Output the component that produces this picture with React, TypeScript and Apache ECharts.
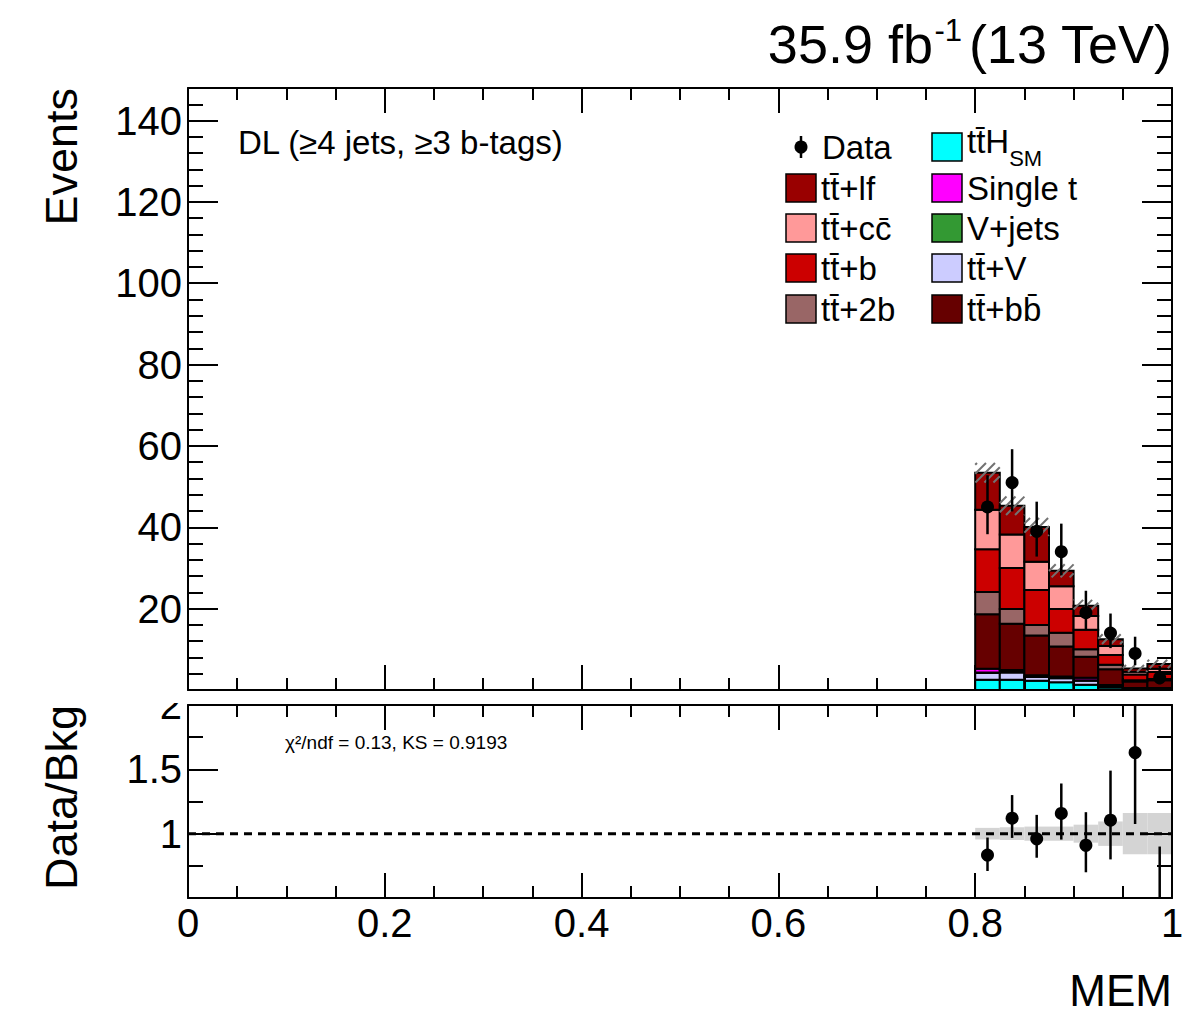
import React, { useEffect, useRef } from 'react';
import * as echarts from 'echarts';

// ---------------- data ----------------
const binLow = [0.8, 0.825, 0.85, 0.875, 0.9, 0.925, 0.95, 0.975];
const binHigh = [0.825, 0.85, 0.875, 0.9, 0.925, 0.95, 0.975, 1.0];

// stacked backgrounds (bottom -> top)
const ttH = [2.5, 2.5, 2.3, 1.9, 1.3, 0.6, 0.2, 0.2];
const ttV = [1.7, 1.8, 0.9, 1.0, 1.0, 0.4, 0.2, 0.2];
const vJets = [0.1, 0.1, 0.1, 0.1, 0.1, 0.05, 0.0, 0.0];
const singleT = [0.9, 0.5, 0.3, 0.3, 0.6, 0.15, 0.1, 0.1];
const ttbb = [13.4, 11.4, 9.8, 7.4, 5.2, 3.9, 1.6, 1.9];
const tt2b = [5.5, 3.6, 2.6, 3.4, 1.8, 1.1, 0.3, 0.3];
const ttb = [10.5, 10.1, 8.6, 5.8, 4.8, 2.4, 1.4, 1.7];
const ttcc = [9.7, 8.2, 6.9, 5.6, 3.4, 2.2, 0.7, 0.8];
const ttlf = [9.1, 7.1, 8.6, 3.8, 2.5, 1.7, 0.8, 1.2];

// relative background uncertainty
const bkgUnc = [0.045, 0.05, 0.055, 0.055, 0.07, 0.095, 0.16, 0.16];

// observed data
const dataCounts = [45, 51, 39, 34, 19, 14, 9, 3];
const dataErrUp = [7.8, 8.2, 7.3, 6.9, 5.4, 4.8, 4.1, 2.9];
const dataErrDown = [6.7, 7.1, 6.2, 5.8, 4.3, 3.7, 2.9, 1.6];

// ratio panel
const ratioVals = [0.834, 1.12, 0.96, 1.157, 0.91, 1.105, 1.63, 0.44];
const ratioErrUp = [0.136, 0.18, 0.186, 0.233, 0.257, 0.385, 0.75, 0.46];
const ratioErrDown = [0.124, 0.153, 0.147, 0.203, 0.21, 0.305, 0.555, 0.25];

const mainYLabels = [20, 40, 60, 80, 100, 120, 140];
const ratioYLabels = [1, 1.5, 2];

const TT = 't' + 't\u0304';
const components = [
  { name: TT + 'H', values: ttH, color: '#00ffff' },
  { name: TT + '+V', values: ttV, color: '#ccccff' },
  { name: 'V+jets', values: vJets, color: '#339933' },
  { name: 'Single t', values: singleT, color: '#ff00ff' },
  { name: TT + '+b' + 'b\u0304', values: ttbb, color: '#660000' },
  { name: TT + '+2b', values: tt2b, color: '#996666' },
  { name: TT + '+b', values: ttb, color: '#cc0000' },
  { name: TT + '+c' + 'c\u0304', values: ttcc, color: '#ff9999' },
  { name: TT + '+lf', values: ttlf, color: '#990000' },
];

// legend layout
const legendCol1 = [TT + '+lf', TT + '+c' + 'c\u0304', TT + '+b', TT + '+2b'];
const legendCol2 = [TT + 'H', 'Single t', 'V+jets', TT + '+V', TT + '+b' + 'b\u0304'];

const FONT = '"Liberation Sans", Arial, Helvetica, sans-serif';

function rectRender(color: string) {
  return (params: any, api: any) => {
    const x0 = api.value(0), x1 = api.value(1), y0 = api.value(2), y1 = api.value(3);
    if (!(y1 - y0 > 0)) return { type: 'group', children: [] };
    const p0 = api.coord([x0, y0]);
    const p1 = api.coord([x1, y1]);
    return {
      type: 'rect',
      shape: { x: p0[0], y: p1[1], width: p1[0] - p0[0], height: p0[1] - p1[1] },
      style: { fill: color, stroke: '#000', lineWidth: 2 },
    };
  };
}

function bandRender(params: any, api: any) {
  const p0 = api.coord([api.value(0), api.value(2)]);
  const p1 = api.coord([api.value(1), api.value(3)]);
  return {
    type: 'rect',
    shape: { x: p0[0], y: p1[1], width: p1[0] - p0[0], height: p0[1] - p1[1] },
    style: { fill: '#d4d4d4' },
  };
}

function hatchRender(params: any, api: any) {
  const pA = api.coord([api.value(0), api.value(3)]);
  const pB = api.coord([api.value(1), api.value(2)]);
  const xa = pA[0], ya = pA[1], xb = pB[0], yb = pB[1];
  const step = 9;
  const children: any[] = [];
  for (let c = Math.ceil((xa + ya) / step) * step; c <= xb + yb; c += step) {
    const xs = Math.max(xa, c - yb);
    const xe = Math.min(xb, c - ya);
    if (xe > xs) {
      children.push({
        type: 'line',
        shape: { x1: xs, y1: c - xs, x2: xe, y2: c - xe },
        style: { stroke: '#727272', lineWidth: 2 },
      });
    }
  }
  return { type: 'group', children };
}

function pointRender(params: any, api: any) {
  const x = api.value(0), y = api.value(1), dn = api.value(2), up = api.value(3);
  const pc = api.coord([x, y]);
  const pl = api.coord([x, y - dn]);
  const ph = api.coord([x, y + up]);
  return {
    type: 'group',
    children: [
      { type: 'line', shape: { x1: pc[0], y1: pl[1], x2: pc[0], y2: ph[1] }, style: { stroke: '#000', lineWidth: 2.5 } },
      { type: 'circle', shape: { cx: pc[0], cy: pc[1], r: 6.5 }, style: { fill: '#000' } },
    ],
  };
}

function xAxisDef(gridIndex: number, position: string, showLabels: boolean) {
  return {
    type: 'value', gridIndex, position, min: 0, max: 1, interval: 0.2, z: 5,
    axisLine: { show: true, onZero: false, lineStyle: { color: '#000', width: 2 } },
    axisTick: { show: true, inside: true, length: 25, lineStyle: { color: '#000', width: 2 } },
    minorTick: { show: true, splitNumber: 4, length: 12, lineStyle: { color: '#000', width: 2 } },
    splitLine: { show: false },
    axisLabel: {
      show: showLabels, color: '#000', fontSize: 40, fontFamily: FONT, margin: 5,
      showMinLabel: true, showMaxLabel: true,
      formatter: (v: number) => String(Math.round(v * 10) / 10),
    },
  };
}

function yAxisDef(gridIndex: number, position: string, min: number, max: number, interval: number,
  tickLen: number, showLine: boolean, labels: number[] | null, minorSplit = 0) {
  return {
    type: 'value', gridIndex, position, min, max, interval, z: 5,
    axisLine: { show: showLine, onZero: false, lineStyle: { color: '#000', width: 2 } },
    axisTick: { show: true, inside: true, length: tickLen, lineStyle: { color: '#000', width: 2 } },
    minorTick: { show: minorSplit > 0, splitNumber: minorSplit || 5, length: 15, lineStyle: { color: '#000', width: 2 } },
    splitLine: { show: false },
    axisLabel: {
      show: !!labels, color: '#000', fontSize: 40, fontFamily: FONT, margin: 6,
      showMinLabel: true, showMaxLabel: true,
      formatter: (v: number) => {
        if (!labels) return '';
        const hit = labels.find((l) => Math.abs(l - v) < 1e-6);
        return hit !== undefined ? String(hit) : '';
      },
    },
  };
}

function buildOption() {
  const n = binLow.length;
  const series: any[] = [];
  const cum = new Array(n).fill(0);
  components.forEach((c) => {
    const data = [];
    for (let i = 0; i < n; i++) {
      const b = cum[i];
      const t = b + c.values[i];
      data.push([binLow[i], binHigh[i], b, t]);
      cum[i] = t;
    }
    series.push({
      type: 'custom', name: c.name, xAxisIndex: 0, yAxisIndex: 0, z: 2,
      renderItem: rectRender(c.color), data, silent: true,
    });
  });
  const totals = cum.slice();
  series.push({
    type: 'custom', name: 'unc', xAxisIndex: 0, yAxisIndex: 0, z: 3, silent: true,
    renderItem: hatchRender,
    data: totals.map((t, i) => [binLow[i], binHigh[i], t * (1 - bkgUnc[i]), t * (1 + bkgUnc[i])]),
  });
  series.push({
    type: 'custom', name: 'Data', xAxisIndex: 0, yAxisIndex: 0, z: 4, silent: true, clip: true,
    renderItem: pointRender,
    data: dataCounts.map((d, i) => [(binLow[i] + binHigh[i]) / 2, d, dataErrDown[i], dataErrUp[i]]),
  });
  // ratio panel
  series.push({
    type: 'custom', name: 'band', xAxisIndex: 2, yAxisIndex: 4, z: 2, silent: true, clip: true,
    renderItem: bandRender,
    data: bkgUnc.map((u, i) => [binLow[i], binHigh[i], 1 - u, 1 + u]),
  });
  series.push({
    type: 'line', xAxisIndex: 2, yAxisIndex: 4, z: 3, silent: true, symbol: 'none',
    data: [[0, 1], [1, 1]],
    lineStyle: { color: '#000', width: 3, type: [8, 6] },
  });
  series.push({
    type: 'custom', name: 'ratio', xAxisIndex: 2, yAxisIndex: 4, z: 4, silent: true, clip: true,
    renderItem: pointRender,
    data: ratioVals.map((r, i) => [(binLow[i] + binHigh[i]) / 2, r, ratioErrDown[i], ratioErrUp[i]]),
  });

  const colorOf = (name: string) => components.find((c) => c.name === name)!.color;
  const graphics: any[] = [];
  const txt = (text: string, x: number, y: number, size: number, align = 'left', extra: any = {}) => ({
    type: 'text', x, y, z: 20, silent: true, ...extra,
    style: { text, fill: '#000', fontSize: size, fontFamily: FONT, align, verticalAlign: 'middle' },
  });
  // title
  graphics.push(txt('(13 TeV)', 1172, 44, 54, 'right'));
  graphics.push(txt('-1', 962, 30, 31, 'right'));
  graphics.push(txt('35.9 fb', 933, 44, 54, 'right'));
  // axis titles
  graphics.push(txt('Events', 61, 88, 45, 'right', { rotation: Math.PI / 2 }));
  graphics.push(txt('Data/Bkg', 61, 705, 45, 'right', { rotation: Math.PI / 2 }));
  graphics.push(txt('MEM', 1172, 990, 44, 'right'));
  // annotations
  graphics.push(txt('DL (\u22654 jets, \u22653 b-tags)', 238, 142, 33));
  graphics.push(txt('\u03c7\u00b2/ndf = 0.13, KS = 0.9193', 285, 742, 19));
  // cover top of ratio "2" label (hidden behind the upper pad)
  graphics.push({ type: 'rect', z: 15, silent: true, shape: { x: 90, y: 691, width: 95, height: 12 }, style: { fill: '#fff' } });
  // legend
  const rowY = [147, 188, 228, 268, 309];
  graphics.push({ type: 'line', z: 20, silent: true, shape: { x1: 801, y1: 136, x2: 801, y2: 158 }, style: { stroke: '#000', lineWidth: 2.5 } });
  graphics.push({ type: 'circle', z: 21, silent: true, shape: { cx: 801, cy: 147, r: 6.5 }, style: { fill: '#000' } });
  graphics.push(txt('Data', 822, 147, 33));
  legendCol1.forEach((name, k) => {
    const y = rowY[k + 1];
    graphics.push({ type: 'rect', z: 20, silent: true, shape: { x: 786, y: y - 14, width: 30, height: 28 }, style: { fill: colorOf(name), stroke: '#000', lineWidth: 1.5 } });
    graphics.push(txt(name, 821, y, 33));
  });
  legendCol2.forEach((name, k) => {
    const y = rowY[k];
    graphics.push({ type: 'rect', z: 20, silent: true, shape: { x: 932, y: y - 14, width: 30, height: 28 }, style: { fill: colorOf(name), stroke: '#000', lineWidth: 1.5 } });
    if (k === 0) {
      graphics.push({
        type: 'text', x: 967, y: y - 22, z: 20, silent: true,
        style: {
          text: '{a|' + name + '}{s|SM}', fill: '#000', fontFamily: FONT, align: 'left', verticalAlign: 'top',
          rich: {
            a: { fontSize: 33, lineHeight: 44, fontFamily: FONT, fill: '#000', verticalAlign: 'top' },
            s: { fontSize: 22, lineHeight: 18, fontFamily: FONT, fill: '#000', verticalAlign: 'bottom' },
          },
        },
      });
    } else {
      graphics.push(txt(name, 967, y, 33));
    }
  });

  return {
    animation: false,
    backgroundColor: '#fff',
    textStyle: { fontFamily: FONT },
    grid: [
      { left: 188, right: 16, top: 88, height: 602, containLabel: false },
      { left: 188, right: 16, top: 705, height: 193, containLabel: false },
    ],
    xAxis: [
      xAxisDef(0, 'bottom', false),
      xAxisDef(0, 'top', false),
      xAxisDef(1, 'bottom', true),
      xAxisDef(1, 'top', false),
    ],
    yAxis: [
      yAxisDef(0, 'left', 0, 148, 20, 30, true, mainYLabels),
      yAxisDef(0, 'right', 0, 148, 20, 30, true, null),
      yAxisDef(0, 'left', 0, 148, 4, 15, false, null),
      yAxisDef(0, 'right', 0, 148, 4, 15, false, null),
      yAxisDef(1, 'left', 0.5, 2, 0.5, 30, true, ratioYLabels, 2),
      yAxisDef(1, 'right', 0.5, 2, 0.5, 30, true, null, 2),
    ],
    series,
    graphic: { elements: graphics },
  };
}

export default function App() {
  const ref = useRef<HTMLDivElement>(null);
  useEffect(() => {
    const chart = echarts.init(ref.current!, null, { renderer: 'svg' });
    chart.setOption(buildOption() as any);
    return () => chart.dispose();
  }, []);
  return (
    <div
      ref={ref}
      style={{ position: 'fixed', left: 0, top: 0, width: 1188, height: 1015, background: '#fff' }}
    />
  );
}
